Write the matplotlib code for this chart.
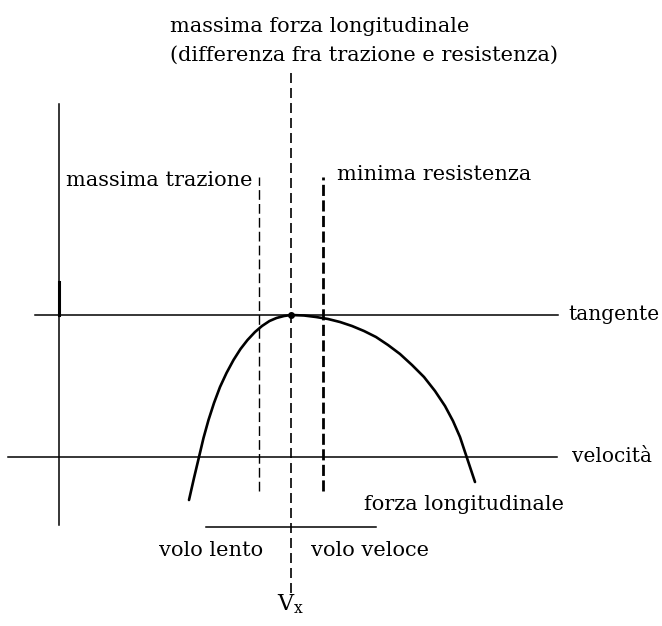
import matplotlib.pyplot as plt

# forza longitudinale vs velocità (unità arbitrarie)
speed = [13.0, 13.5, 14.0, 14.45, 14.95, 15.5, 16.1, 16.75, 17.45, 18.15,
         18.85, 19.6, 20.3, 21.05, 21.75, 22.5, 23.2,
         24.5, 25.7, 26.9, 28.1, 29.3, 30.5, 31.7, 32.9, 34.1, 35.3, 36.5,
         37.6, 38.6, 39.4, 40.1, 40.7, 41.2, 41.6]
force = [-4.3, -2.1, 0.0, 1.9, 3.7, 5.4, 7.0, 8.4, 9.7, 10.8,
         11.7, 12.5, 13.1, 13.6, 13.9, 14.1, 14.2,
         14.15, 14.0, 13.8, 13.5, 13.1, 12.6, 12.0, 11.2, 10.3, 9.2, 8.0,
         6.6, 5.1, 3.6, 2.0, 0.2, -1.3, -2.5]

tangent_level = 14.2
v_max_force = 23.2      # Vx
v_max_traction = 20.0
v_min_drag = 26.4

plt.rcParams["font.family"] = ["DejaVu Serif"]

fig = plt.figure(figsize=(6.62, 6.26), dpi=100)
ax = fig.add_axes([0, 0, 1, 1])
ax.set_xlim(-5.9, 60.3)
ax.set_ylim(-16.9, 45.7)
ax.axis("off")

fs = 15
k = "black"

# assi
ax.plot([0, 0], [-6.8, 35.3], color=k, lw=1.1)
ax.plot([0, 0], [14.2, 17.5], color=k, lw=2.2)
ax.plot([-2.4, 49.9], [tangent_level, tangent_level], color=k, lw=1.1)
ax.plot([-5.1, 49.8], [0, 0], color=k, lw=1.1)
ax.plot([14.7, 31.7], [-7.0, -7.0], color=k, lw=1.1)

# curva della forza longitudinale
ax.plot(speed, force, color=k, lw=1.9, solid_capstyle="round",
        solid_joinstyle="round")
ax.plot([v_max_force], [tangent_level], "o", color=k, ms=4)

# linee verticali tratteggiate
ax.plot([v_max_force, v_max_force], [-13.6, 38.9], color=k, lw=1.2,
        dashes=(6, 3))
ax.plot([v_max_traction, v_max_traction], [-3.4, 28.0], color=k, lw=1.0,
        dashes=(7, 3))
ax.plot([v_min_drag, v_min_drag], [-3.4, 28.0], color=k, lw=2.0,
        dashes=(4, 1.6))

# testi
ax.text(11.1, 43.0, "massima forza longitudinale", fontsize=fs,
        ha="left", va="center")
ax.text(11.1, 40.2, "(differenza fra trazione e resistenza)", fontsize=fs,
        ha="left", va="center")
ax.text(19.3, 27.7, "massima trazione", fontsize=fs, ha="right", va="center")
ax.text(27.8, 28.2, "minima resistenza", fontsize=fs, ha="left", va="center")
ax.text(50.9, tangent_level, "tangente", fontsize=14.5, ha="left",
        va="center")
ax.text(51.3, 0, "velocità", fontsize=14.5, ha="left", va="center")
ax.text(30.5, -4.8, "forza longitudinale", fontsize=fs, ha="left",
        va="center")
ax.text(10.0, -9.3, "volo lento", fontsize=fs, ha="left", va="center")
ax.text(25.2, -9.3, "volo veloce", fontsize=fs, ha="left", va="center")
ax.text(v_max_force, -14.7, r"V$_\mathregular{x}$", fontsize=fs + 1,
        ha="center", va="center")

fig.savefig("out.png", dpi=100, facecolor="white")
